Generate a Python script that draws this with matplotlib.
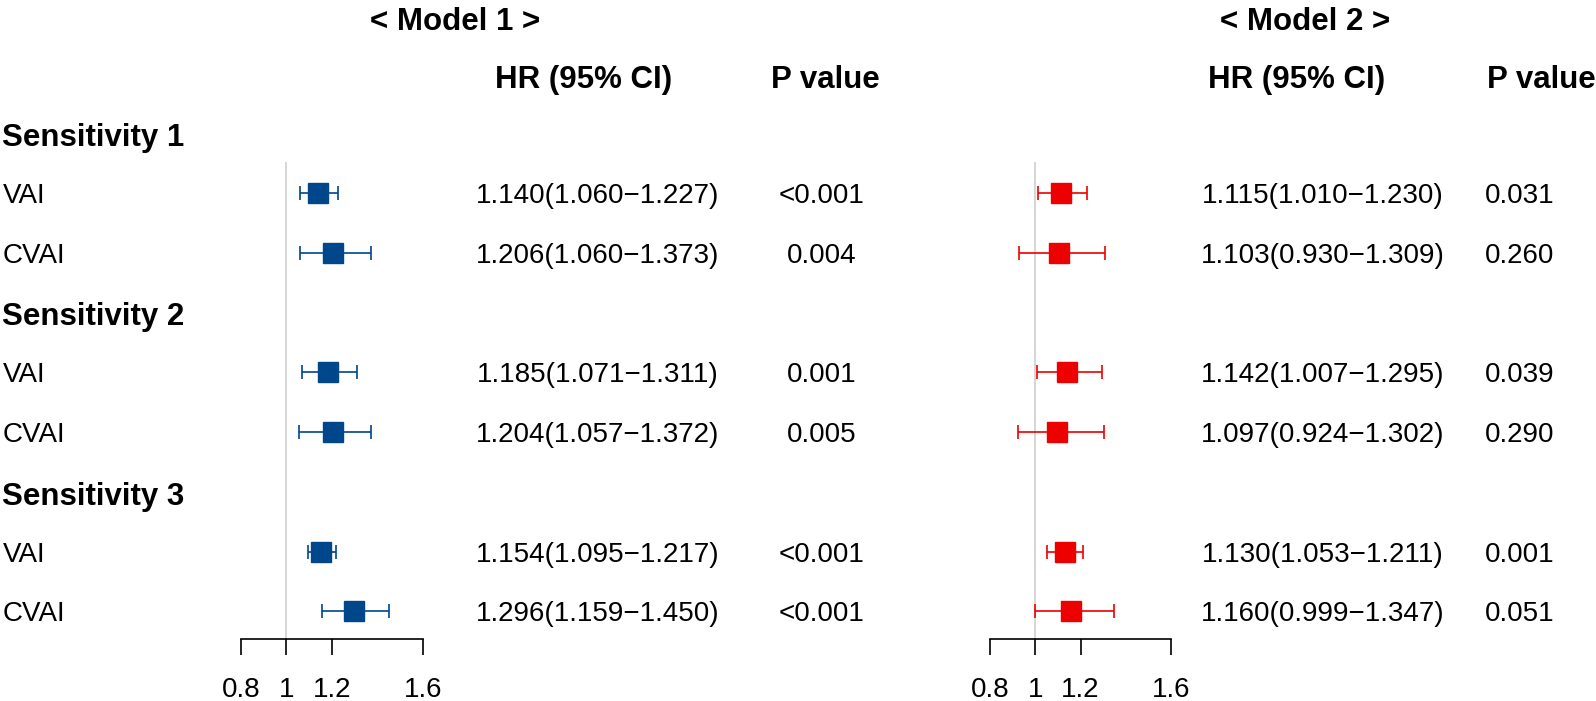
import matplotlib
matplotlib.use("Agg")
import matplotlib.pyplot as plt

plt.rcParams['font.family'] = ['Liberation Sans', 'DejaVu Sans']

# ---- data ----
row_labels = ["Sensitivity 1", "VAI", "CVAI", "Sensitivity 2", "VAI", "CVAI",
              "Sensitivity 3", "VAI", "CVAI"]
header_rows = [0, 3, 6]
data_rows = [1, 2, 4, 5, 7, 8]

m1_hr = [1.140, 1.206, 1.185, 1.204, 1.154, 1.296]
m1_lo = [1.060, 1.060, 1.071, 1.057, 1.095, 1.159]
m1_hi = [1.227, 1.373, 1.311, 1.372, 1.217, 1.450]
m1_p = ["<0.001", "0.004", "0.001", "0.005", "<0.001", "<0.001"]

m2_hr = [1.115, 1.103, 1.142, 1.097, 1.130, 1.160]
m2_lo = [1.010, 0.930, 1.007, 0.924, 1.053, 0.999]
m2_hi = [1.230, 1.309, 1.295, 1.302, 1.211, 1.347]
m2_p = ["0.031", "0.260", "0.039", "0.290", "0.001", "0.051"]

xticks = [0.8, 1.0, 1.2, 1.6]
xtick_labels = ["0.8", "1", "1.2", "1.6"]

BLUE = "#00468B"
RED = "#ED0000"

W, H = 1596, 701
fig = plt.figure(figsize=(W / 100, H / 100), dpi=100)

row0_px = 133.0
row_step = 59.8
axis_px = 639.0
ybottom = (axis_px - row0_px) / row_step
ytop = -0.5
top_px = row0_px + ytop * row_step


def fy(py):
    return 1 - py / H


def fx(px):
    return px / W


def make_forest(x0_px, x1_px, hr, lo, hi, color):
    ax = fig.add_axes([fx(x0_px), fy(axis_px), fx(x1_px) - fx(x0_px),
                       (axis_px - top_px) / H])
    ax.set_xlim(0.8, 1.6)
    ax.set_ylim(ybottom, ytop)
    for s in ["left", "right", "top"]:
        ax.spines[s].set_visible(False)
    ax.spines["bottom"].set_linewidth(1.2)
    ax.spines["bottom"].set_bounds(0.8, 1.6)
    ax.set_yticks([])
    ax.set_xticks(xticks)
    ax.set_xticklabels(xtick_labels)
    ax.tick_params(axis="x", direction="out", length=11.5, width=1.2,
                   labelsize=20, pad=16)
    ax.vlines(1.0, 0.48, ybottom, color="#D3D3D3", lw=1.3, zorder=1)
    xerr = [[h - l for h, l in zip(hr, lo)], [u - h for h, u in zip(hr, hi)]]
    ax.errorbar(hr, data_rows, xerr=xerr, fmt="s", color=color, ms=14,
                elinewidth=1.2, capsize=5, capthick=1.2, zorder=3,
                clip_on=False)
    ax.patch.set_alpha(0)
    return ax


make_forest(240.7, 422.7, m1_hr, m1_lo, m1_hi, BLUE)
make_forest(990.0, 1171.0, m2_hr, m2_lo, m2_hi, RED)

TXT_DY = 3.0   # plain text downward nudge (px)
HDR_DY = 5.0   # bold header nudge (px)

# row labels
for i, lab in enumerate(row_labels):
    py = row0_px + i * row_step
    if i in header_rows:
        fig.text(fx(2.5), fy(py + HDR_DY), lab, fontsize=22.5,
                 fontweight="bold", ha="left", va="center")
    else:
        fig.text(fx(2.5), fy(py + TXT_DY), lab, fontsize=20, ha="left",
                 va="center")

# headers
fig.text(fx(455), fy(22), "< Model 1 >", fontsize=22.5, fontweight="bold",
         ha="center", va="center")
fig.text(fx(1305), fy(22), "< Model 2 >", fontsize=22.5, fontweight="bold",
         ha="center", va="center")
for cx_hr, cx_p in [(584, 825), (1297, 1541)]:
    fig.text(fx(cx_hr), fy(80), "HR (95% CI)", fontsize=22.5,
             fontweight="bold", ha="center", va="center")
    fig.text(fx(cx_p), fy(80), "P value", fontsize=22.5, fontweight="bold",
             ha="center", va="center")

# values
for k, r in enumerate(data_rows):
    py = row0_px + r * row_step + TXT_DY
    fig.text(fx(597.5), fy(py),
             f"{m1_hr[k]:.3f}({m1_lo[k]:.3f}\u2212{m1_hi[k]:.3f})",
             fontsize=20, ha="center", va="center")
    fig.text(fx(822), fy(py), m1_p[k], fontsize=20, ha="center", va="center")
    fig.text(fx(1323), fy(py),
             f"{m2_hr[k]:.3f}({m2_lo[k]:.3f}\u2212{m2_hi[k]:.3f})",
             fontsize=20, ha="center", va="center")
    fig.text(fx(1485), fy(py), m2_p[k], fontsize=20, ha="left", va="center")

fig.savefig("out.png", dpi=100)
